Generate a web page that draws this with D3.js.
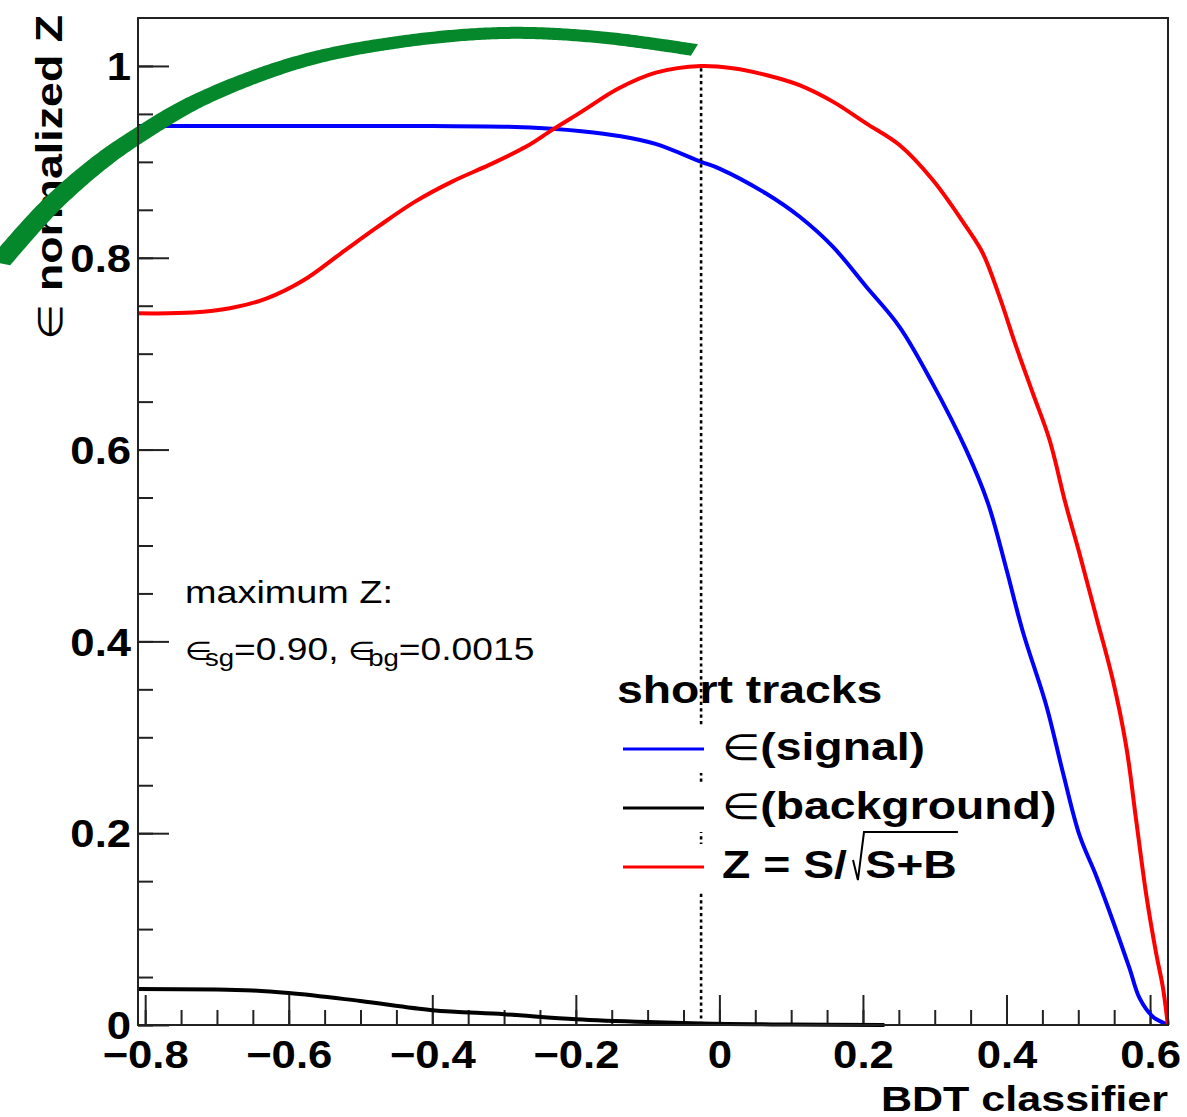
<!DOCTYPE html>
<html>
<head>
<meta charset="utf-8">
<script src="https://cdn.jsdelivr.net/npm/d3@7"></script>
<style>
  html, body { margin: 0; padding: 0; background: #fff; }
  svg { display: block; }
</style>
</head>
<body>
<svg id="chart" width="1187" height="1117"></svg>
<script>
// BDT classifier scan: efficiencies and normalized significance
const xTickValues = [-0.8, -0.6, -0.4, -0.2, 0, 0.2, 0.4, 0.6];
const xTickLabels = ["\u22120.8", "\u22120.6", "\u22120.4", "\u22120.2", "0", "0.2", "0.4", "0.6"];
const yTickValues = [0, 0.2, 0.4, 0.6, 0.8, 1];
const yTickLabels = ["0", "0.2", "0.4", "0.6", "0.8", "1"];

// signal efficiency vs. BDT cut
const effSignal = [
  [-0.81, 0.9375], [-0.6, 0.9375], [-0.4, 0.9373], [-0.295, 0.9367], [-0.233, 0.9346],
  [-0.192, 0.932], [-0.14, 0.927], [-0.089, 0.9187], [-0.0255, 0.900], [0.0, 0.893],
  [0.065, 0.867], [0.1115, 0.843], [0.158, 0.8116], [0.2044, 0.770], [0.2509, 0.728],
  [0.2969, 0.669], [0.3438, 0.5996], [0.3740, 0.5445], [0.3996, 0.476], [0.4227, 0.4103],
  [0.4554, 0.3332], [0.4785, 0.2636], [0.5017, 0.1979], [0.525, 0.1554], [0.548, 0.109],
  [0.5714, 0.059], [0.5854, 0.028], [0.6039, 0.0087], [0.6226, 0.001]
];

// background efficiency vs. BDT cut
const effBackground = [
  [-0.81, 0.0375], [-0.7, 0.037], [-0.65, 0.036], [-0.6, 0.0334], [-0.5, 0.025],
  [-0.4, 0.0155], [-0.3, 0.0112], [-0.2, 0.006], [-0.1, 0.003], [-0.0255, 0.0015],
  [0.1, 0.0005], [0.23, 0.0]
];

// Z = S/sqrt(S+B), normalized to its maximum
const signifZ = [
  [-0.811, 0.7421], [-0.7337, 0.7428], [-0.682, 0.7473], [-0.6305, 0.7577], [-0.5788, 0.7768],
  [-0.5272, 0.8047], [-0.4757, 0.8324], [-0.424, 0.8585], [-0.3724, 0.8794], [-0.3207, 0.8968],
  [-0.2691, 0.9159], [-0.233, 0.9333], [-0.1918, 0.9524], [-0.1401, 0.9767], [-0.0885, 0.993],
  [-0.0255, 1.0], [0.0186, 0.9976], [0.065, 0.9906], [0.1115, 0.980], [0.158, 0.9628],
  [0.2044, 0.9402], [0.2509, 0.9176], [0.2973, 0.8811], [0.3438, 0.8324], [0.367, 0.8047],
  [0.3902, 0.7595], [0.4135, 0.7073], [0.4367, 0.6587], [0.46, 0.61], [0.4820, 0.5445],
  [0.5017, 0.4915], [0.525, 0.4258], [0.548, 0.3602], [0.5668, 0.2906], [0.5807, 0.2133],
  [0.5946, 0.1362], [0.6086, 0.0743], [0.6178, 0.0396], [0.6248, 0.0]
];

// position of the maximum of Z
const bestCut = -0.0255;
const bestZ = 1.0;

// highlighted arc drawn across the top of the frame
const greenArc = [
  [-1.0035, 0.7946], [-0.9338, 0.853], [-0.8641, 0.8989], [-0.8084, 0.928], [-0.7247, 0.9645],
  [-0.5854, 1.0042], [-0.446, 1.025], [-0.2997, 1.0344], [-0.1672, 1.030], [-0.0348, 1.0167]
];

const legendTitle = "short tracks";
const legendEntries = [
  { sym: "\u2208", label: "(signal)", color: "#0000ff" },
  { sym: "\u2208", label: "(background)", color: "#000000" },
  { sym: "", label: "Z = S/", root: "S+B", color: "#ff0000" }
];

const FONT = "'Liberation Sans', Arial, Helvetica, sans-serif";
const SYM = "'DejaVu Sans', sans-serif";

const svg = d3.select("#chart");
const frame = { left: 138, right: 1168, top: 18, bottom: 1025 };

const x = d3.scaleLinear().domain([-0.81, 0.625]).range([frame.left, frame.right]);
const y = d3.scaleLinear().domain([0, 1.05]).range([frame.bottom, frame.top]);

// ---- axes (ticks pointing into the frame) ----
const minorX = d3.range(-16, 13).map(i => i / 20);
const minorY = d3.range(0, 21).map(i => i / 20);

const axisStyle = g => {
  g.select(".domain").remove();
  g.selectAll("line").attr("stroke", "#222").attr("stroke-width", 2);
};

svg.append("g")
  .attr("transform", `translate(0,${frame.bottom})`)
  .call(d3.axisBottom(x).tickValues(minorX).tickFormat("").tickSizeInner(-15).tickSizeOuter(0))
  .call(axisStyle);
svg.append("g")
  .attr("transform", `translate(${frame.left},0)`)
  .call(d3.axisLeft(y).tickValues(minorY).tickFormat("").tickSizeInner(-15).tickSizeOuter(0))
  .call(axisStyle);

const xAxisG = svg.append("g")
  .attr("transform", `translate(0,${frame.bottom})`)
  .call(d3.axisBottom(x).tickValues(xTickValues).tickFormat((d, i) => xTickLabels[i])
    .tickSizeInner(-30).tickSizeOuter(0).tickPadding(0))
  .call(axisStyle);
xAxisG.attr("font-family", FONT).attr("font-size", 38).attr("font-weight", "bold");
xAxisG.selectAll("text").attr("y", 43).attr("dy", null).attr("fill", "#000")
  .attr("transform", "scale(1.15,1)");

const yAxisG = svg.append("g")
  .attr("transform", `translate(${frame.left},0)`)
  .call(d3.axisLeft(y).tickValues(yTickValues).tickFormat((d, i) => yTickLabels[i])
    .tickSizeInner(-31).tickSizeOuter(0).tickPadding(0))
  .call(axisStyle);
yAxisG.attr("font-family", FONT).attr("font-size", 38).attr("font-weight", "bold");
yAxisG.selectAll("text").attr("x", -6).attr("dy", "0.36em").attr("fill", "#000")
  .attr("transform", "scale(1.15,1)");

// ---- axis titles ----
svg.append("text")
  .attr("transform", `translate(${frame.right},1111) scale(1.23,1)`)
  .attr("text-anchor", "end")
  .attr("font-family", FONT).attr("font-size", 35).attr("font-weight", "bold")
  .text("BDT classifier");

const yTitle = svg.append("text")
  .attr("transform", `translate(62,15) rotate(-90) scale(1.21,1)`)
  .attr("text-anchor", "end")
  .attr("font-family", FONT).attr("font-size", 37);
yTitle.append("tspan").attr("font-family", SYM).attr("font-size", 34).text("\u2208 ");
yTitle.append("tspan").attr("font-weight", "bold").text("normalized Z");

// ---- curves ----
const smooth = d3.line().x(d => x(d[0])).y(d => y(d[1])).curve(d3.curveCatmullRom.alpha(0.5));
const mono = d3.line().x(d => x(d[0])).y(d => y(d[1])).curve(d3.curveMonotoneX);

svg.append("path").datum(effSignal).attr("d", smooth)
  .attr("fill", "none").attr("stroke", "#0000ff").attr("stroke-width", 4).attr("stroke-linejoin", "round");
svg.append("path").datum(signifZ).attr("d", smooth)
  .attr("fill", "none").attr("stroke", "#ff0000").attr("stroke-width", 4).attr("stroke-linejoin", "round");
svg.append("path").datum(effBackground).attr("d", mono)
  .attr("fill", "none").attr("stroke", "#000").attr("stroke-width", 4).attr("stroke-linejoin", "round");

// vertical marker at the optimal cut
svg.append("line")
  .attr("x1", x(bestCut)).attr("x2", x(bestCut))
  .attr("y1", y(0)).attr("y2", y(bestZ))
  .attr("stroke", "#000").attr("stroke-width", 2.6).attr("stroke-dasharray", "3.2 3.2");

// ---- annotation text ----
const ann = svg.append("g").attr("font-family", FONT).attr("font-size", 31);
ann.append("text").attr("transform", "translate(185,603) scale(1.22,1)").text("maximum Z:");
const ann2 = ann.append("text").attr("transform", "translate(185,660) scale(1.2,1)");
ann2.append("tspan").attr("font-family", SYM).attr("font-size", 26).text("\u2208");
ann2.append("tspan").attr("font-size", 23).attr("dx", -6).attr("dy", 6).text("sg");
ann2.append("tspan").attr("dy", -6).text("=0.90,");
ann2.append("tspan").attr("font-family", SYM).attr("font-size", 26).attr("dx", 8).text("\u2208");
ann2.append("tspan").attr("font-size", 23).attr("dx", -6).attr("dy", 6).text("bg");
ann2.append("tspan").attr("dy", -6).text("=0.0015");

// ---- legend ----
const legend = svg.append("g").attr("font-family", FONT).attr("font-size", 38);
const rowY = [749, 808, 867];
// entry backgrounds behind the line samples
legendEntries.forEach((e, i) => {
  legend.append("rect")
    .attr("x", 615).attr("y", rowY[i] - 23).attr("width", 100).attr("height", 47)
    .attr("fill", "#fff");
});
legend.append("text")
  .attr("transform", "translate(617,703) scale(1.22,1)")
  .attr("font-weight", "bold").text(legendTitle);

legendEntries.forEach((e, i) => {
  legend.append("line")
    .attr("x1", 623).attr("x2", 704).attr("y1", rowY[i]).attr("y2", rowY[i])
    .attr("stroke", e.color).attr("stroke-width", 3);
  const g = legend.append("g").attr("transform", `translate(722,${rowY[i] + 11}) scale(1.22,1)`);
  const t = g.append("text");
  if (e.sym) t.append("tspan").attr("font-family", SYM).attr("font-size", 36).text(e.sym);
  t.append("tspan").attr("font-weight", "bold").text(e.label);
  if (e.root) {
    t.append("tspan").attr("font-weight", "bold").attr("dx", 15).text(e.root);
    const node = t.node();
    const n1 = e.label.length;
    const a = node.getEndPositionOfChar(n1 - 1).x;
    const b = node.getStartPositionOfChar(n1).x;
    const c = node.getEndPositionOfChar(n1 + e.root.length - 1).x;
    const top = -46;
    g.append("path")
      .attr("d", `M${a + 5},-18 L${a + 9},2 L${b - 1},${top} L${c + 1},${top}`)
      .attr("fill", "none").attr("stroke", "#000").attr("stroke-width", 2)
      .attr("vector-effect", "non-scaling-stroke");
  }
});

// ---- green arc, drawn as a ribbon whose width follows the slope ----
(function drawArc() {
  const arcLine = d3.line().x(d => x(d[0])).y(d => y(d[1])).curve(d3.curveCatmullRom.alpha(0.5));
  const tmp = svg.append("path").attr("d", arcLine(greenArc)).attr("fill", "none");
  const node = tmp.node();
  const L = node.getTotalLength();
  const N = 300;
  const pts = d3.range(N + 1).map(i => node.getPointAtLength(L * i / N));
  tmp.remove();
  const k = 2.0, w0 = 12;
  const left = [], right = [];
  pts.forEach((p, i) => {
    const p0 = pts[Math.max(0, i - 1)], p1 = pts[Math.min(N, i + 1)];
    const dx = p1.x - p0.x, dy = p1.y - p0.y;
    const norm = Math.hypot(dy, dx / k);
    const ox = (-dy * k) * (w0 / 2) / norm;
    const oy = (dx / k) * (w0 / 2) / norm;
    left.push([p.x + ox, p.y + oy]);
    right.push([p.x - ox, p.y - oy]);
  });
  const poly = left.concat(right.reverse());
  svg.append("path")
    .attr("d", "M" + poly.map(p => p[0].toFixed(2) + "," + p[1].toFixed(2)).join("L") + "Z")
    .attr("fill", "#05872b");
})();

// ---- frame ----
svg.append("rect")
  .attr("x", frame.left).attr("y", frame.top)
  .attr("width", frame.right - frame.left).attr("height", frame.bottom - frame.top)
  .attr("fill", "none").attr("stroke", "#222").attr("stroke-width", 2);
</script>
</body>
</html>
